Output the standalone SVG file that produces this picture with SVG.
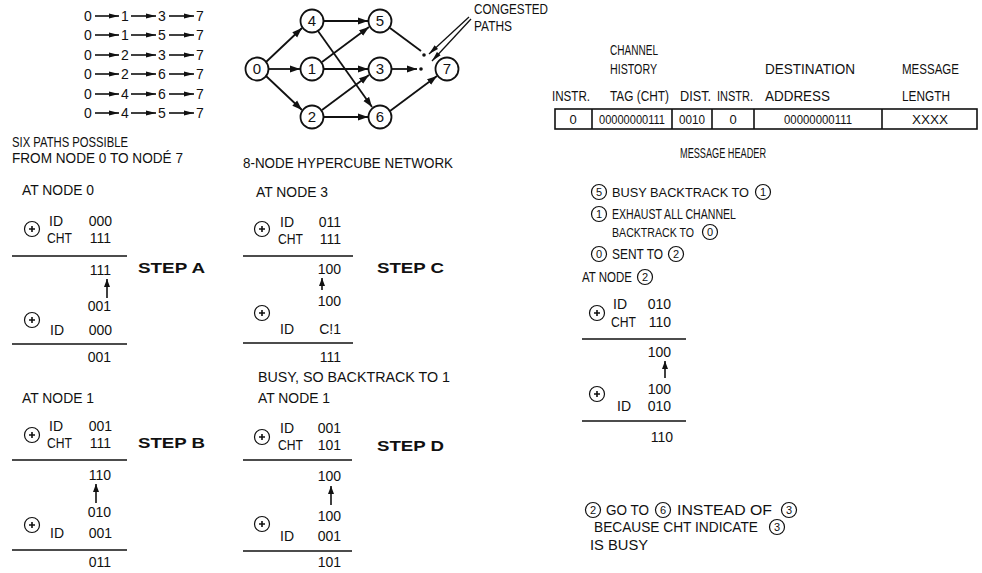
<svg xmlns="http://www.w3.org/2000/svg" width="982" height="573" viewBox="0 0 982 573">
<defs>
<style>
.t{font-family:"Liberation Sans",Arial,sans-serif;font-size:14px;fill:#111;}
.s{font-size:13px;}
.x{font-size:12px;}
.d{font-family:"Liberation Sans",Arial,sans-serif;font-size:14px;fill:#111;}
.b{font-family:"Liberation Sans",Arial,sans-serif;font-size:15px;font-weight:bold;fill:#111;}
.n{font-family:"Liberation Sans",Arial,sans-serif;font-size:15px;fill:#111;text-anchor:middle;}
.c{font-family:"Liberation Sans",Arial,sans-serif;font-size:11px;fill:#111;text-anchor:middle;}
.e{text-anchor:end;}
.m{text-anchor:middle;}
.ln{stroke:#111;stroke-width:1.6;fill:none;}
.nd{fill:#fff;stroke:#111;stroke-width:1.8;}
.cc{fill:#fff;stroke:#111;stroke-width:1.2;}
.ed{stroke:#111;stroke-width:1.8;fill:none;}
</style>
<marker id="ah" markerUnits="userSpaceOnUse" markerWidth="10" markerHeight="8" refX="10" refY="4" orient="auto"><path d="M0,0.5 L10,4 L0,7.5 z" fill="#111"/></marker>
<marker id="sa" markerUnits="userSpaceOnUse" markerWidth="10" markerHeight="6" refX="10" refY="3" orient="auto"><path d="M0,0.5 L10,3 L0,5.5 z" fill="#111"/></marker>
<marker id="va" markerUnits="userSpaceOnUse" markerWidth="8" markerHeight="6" refX="8" refY="3" orient="auto"><path d="M0,0 L8,3 L0,6 z" fill="#111"/></marker>
</defs>
<rect width="982" height="573" fill="#fff"/>

<!-- path list -->
<g id="path-list">
<g class="d m">
<text x="88" y="21">0</text><text x="125" y="21">1</text><text x="162" y="21">3</text><text x="200" y="21">7</text>
<text x="88" y="40">0</text><text x="125" y="40">1</text><text x="162" y="40">5</text><text x="200" y="40">7</text>
<text x="88" y="60">0</text><text x="125" y="60">2</text><text x="162" y="60">3</text><text x="200" y="60">7</text>
<text x="88" y="79">0</text><text x="125" y="79">2</text><text x="162" y="79">6</text><text x="200" y="79">7</text>
<text x="88" y="99">0</text><text x="125" y="99">4</text><text x="162" y="99">6</text><text x="200" y="99">7</text>
<text x="88" y="118">0</text><text x="125" y="118">4</text><text x="162" y="118">5</text><text x="200" y="118">7</text>
</g>
<g class="ln" marker-end="url(#sa)" stroke-width="1.4">
<line x1="95" y1="16" x2="119" y2="16"/><line x1="131" y1="16" x2="156" y2="16"/><line x1="169" y1="16" x2="194" y2="16"/>
<line x1="95" y1="35" x2="119" y2="35"/><line x1="131" y1="35" x2="156" y2="35"/><line x1="169" y1="35" x2="194" y2="35"/>
<line x1="95" y1="55" x2="119" y2="55"/><line x1="131" y1="55" x2="156" y2="55"/><line x1="169" y1="55" x2="194" y2="55"/>
<line x1="95" y1="74" x2="119" y2="74"/><line x1="131" y1="74" x2="156" y2="74"/><line x1="169" y1="74" x2="194" y2="74"/>
<line x1="95" y1="94" x2="119" y2="94"/><line x1="131" y1="94" x2="156" y2="94"/><line x1="169" y1="94" x2="194" y2="94"/>
<line x1="95" y1="113" x2="119" y2="113"/><line x1="131" y1="113" x2="156" y2="113"/><line x1="169" y1="113" x2="194" y2="113"/>
</g>
</g>

<!-- hypercube connectors -->
<g id="connectors" class="ed">
<line x1="266" y1="62" x2="302" y2="28" marker-end="url(#ah)"/>
<line x1="269" y1="69" x2="300" y2="69" marker-end="url(#ah)"/>
<line x1="266" y1="76" x2="302" y2="110" marker-end="url(#ah)"/>
<line x1="324" y1="21" x2="368" y2="21" marker-end="url(#ah)"/>
<line x1="318" y1="31" x2="372" y2="107" marker-end="url(#ah)"/>
<line x1="322" y1="62" x2="369" y2="27" marker-end="url(#ah)"/>
<line x1="324" y1="69" x2="368" y2="69" marker-end="url(#ah)"/>
<line x1="322" y1="110" x2="369" y2="75" marker-end="url(#ah)"/>
<line x1="324" y1="117" x2="368" y2="117" marker-end="url(#ah)"/>
<line x1="390" y1="28" x2="421" y2="51"/>
<line x1="391" y1="69" x2="417" y2="69" marker-end="url(#ah)"/>
<line x1="390" y1="111" x2="437" y2="76" marker-end="url(#ah)"/>
<line x1="469" y1="17" x2="429" y2="54" stroke-width="1.3" marker-end="url(#sa)"/>
<line x1="471" y1="19" x2="432" y2="61" stroke-width="1.3" marker-end="url(#sa)"/>
<circle cx="424" cy="55" r="1.8" fill="#111" stroke="none"/>
<circle cx="421" cy="69" r="1.8" fill="#111" stroke="none"/>
</g>

<g id="node-0"><circle class="nd" cx="257" cy="69" r="11.5"/><text class="n" x="257" y="74">0</text></g>
<g id="node-4"><circle class="nd" cx="312" cy="21" r="11.5"/><text class="n" x="312" y="26">4</text></g>
<g id="node-1"><circle class="nd" cx="312" cy="69" r="11.5"/><text class="n" x="312" y="74">1</text></g>
<g id="node-2"><circle class="nd" cx="312" cy="117" r="11.5"/><text class="n" x="312" y="122">2</text></g>
<g id="node-5"><circle class="nd" cx="380" cy="21" r="11.5"/><text class="n" x="380" y="26">5</text></g>
<g id="node-3"><circle class="nd" cx="380" cy="69" r="11.5"/><text class="n" x="380" y="74">3</text></g>
<g id="node-6"><circle class="nd" cx="380" cy="117" r="11.5"/><text class="n" x="380" y="122">6</text></g>
<g id="node-7"><circle class="nd" cx="447" cy="69" r="11.5"/><text class="n" x="447" y="74">7</text></g>

<g id="congested-label">
<text class="t" x="474" y="14" textLength="74" lengthAdjust="spacingAndGlyphs">CONGESTED</text>
<text class="t" x="474" y="31" textLength="38" lengthAdjust="spacingAndGlyphs">PATHS</text>
</g>

<!-- captions -->
<g id="captions">
<text class="t" x="12" y="147" textLength="116" lengthAdjust="spacingAndGlyphs">SIX PATHS POSSIBLE</text>
<text class="t" x="12" y="163" textLength="171" lengthAdjust="spacingAndGlyphs">FROM NODE 0 TO NODÉ 7</text>
<text class="t" x="243" y="168" textLength="210" lengthAdjust="spacingAndGlyphs">8-NODE HYPERCUBE NETWORK</text>
</g>

<!-- message header -->
<g id="message-header">
<g class="t">
<text x="610" y="55" textLength="48" lengthAdjust="spacingAndGlyphs">CHANNEL</text>
<text x="610" y="74" textLength="47" lengthAdjust="spacingAndGlyphs">HISTORY</text>
<text x="552" y="101" textLength="38" lengthAdjust="spacingAndGlyphs">INSTR.</text>
<text x="610" y="101" textLength="59" lengthAdjust="spacingAndGlyphs">TAG (CHT)</text>
<text x="680" y="101" textLength="31" lengthAdjust="spacingAndGlyphs">DIST.</text>
<text x="717" y="101" textLength="36" lengthAdjust="spacingAndGlyphs">INSTR.</text>
<text x="765" y="74" textLength="90" lengthAdjust="spacingAndGlyphs">DESTINATION</text>
<text x="765" y="101" textLength="65" lengthAdjust="spacingAndGlyphs">ADDRESS</text>
<text x="902" y="74" textLength="57" lengthAdjust="spacingAndGlyphs">MESSAGE</text>
<text x="902" y="101" textLength="48" lengthAdjust="spacingAndGlyphs">LENGTH</text>
</g>
<rect x="555" y="109" width="422" height="20" class="ln"/>
<path class="ln" d="M592,109V129M672,109V129M712,109V129M754,109V129M882,109V129"/>
<g class="t s m">
<text x="573" y="124">0</text>
<text x="632" y="124" textLength="66" lengthAdjust="spacingAndGlyphs">00000000111</text>
<text x="692" y="124" textLength="26" lengthAdjust="spacingAndGlyphs">0010</text>
<text x="733" y="124">0</text>
<text x="818" y="124" textLength="68" lengthAdjust="spacingAndGlyphs">00000000111</text>
<text x="930" y="124" textLength="36" lengthAdjust="spacingAndGlyphs">XXXX</text>
</g>
<text class="t" x="680" y="158" textLength="86" lengthAdjust="spacingAndGlyphs">MESSAGE HEADER</text>
</g>

<!-- STEP A -->
<g id="step-a">
<text class="t" x="22" y="195" textLength="72" lengthAdjust="spacingAndGlyphs">AT NODE 0</text>
<circle class="cc" cx="32" cy="229" r="7.5"/><path class="ln" stroke-width="1.1" d="M29,229H35M32,226V232"/>
<text class="d" x="49" y="226">ID</text><text class="d e" x="112" y="226">000</text>
<text class="d" x="47" y="243" textLength="25" lengthAdjust="spacingAndGlyphs">CHT</text><text class="d e" x="111" y="243">111</text>
<line class="ln" x1="12" y1="256" x2="127" y2="256"/>
<text class="d e" x="111" y="275">111</text>
<line class="ln" stroke-width="1.2" x1="107" y1="298" x2="107" y2="279" marker-end="url(#va)"/>
<text class="d e" x="111" y="311">001</text>
<circle class="cc" cx="32" cy="320" r="7.5"/><path class="ln" stroke-width="1.1" d="M29,320H35M32,317V323"/>
<text class="d" x="50" y="335">ID</text><text class="d e" x="112" y="335">000</text>
<line class="ln" x1="12" y1="344" x2="127" y2="344"/>
<text class="d e" x="111" y="362">001</text>
<text class="b" x="138" y="273" textLength="67" lengthAdjust="spacingAndGlyphs">STEP A</text>
</g>

<!-- STEP B -->
<g id="step-b">
<text class="t" x="22" y="403" textLength="72" lengthAdjust="spacingAndGlyphs">AT NODE 1</text>
<circle class="cc" cx="32" cy="435" r="7.5"/><path class="ln" stroke-width="1.1" d="M29,435H35M32,432V438"/>
<text class="d" x="49" y="431">ID</text><text class="d e" x="112" y="431">001</text>
<text class="d" x="47" y="448" textLength="25" lengthAdjust="spacingAndGlyphs">CHT</text><text class="d e" x="111" y="448">111</text>
<line class="ln" x1="12" y1="460" x2="127" y2="460"/>
<text class="d e" x="111" y="480">110</text>
<line class="ln" stroke-width="1.2" x1="96" y1="503" x2="96" y2="484" marker-end="url(#va)"/>
<text class="d e" x="111" y="517">010</text>
<circle class="cc" cx="32" cy="525" r="7.5"/><path class="ln" stroke-width="1.1" d="M29,525H35M32,522V528"/>
<text class="d" x="50" y="538">ID</text><text class="d e" x="112" y="538">001</text>
<line class="ln" x1="12" y1="550" x2="127" y2="550"/>
<text class="d e" x="111" y="567">011</text>
<text class="b" x="138" y="448" textLength="67" lengthAdjust="spacingAndGlyphs">STEP B</text>
</g>

<!-- STEP C -->
<g id="step-c">
<text class="t" x="256" y="197" textLength="72" lengthAdjust="spacingAndGlyphs">AT NODE 3</text>
<circle class="cc" cx="262" cy="229" r="7.5"/><path class="ln" stroke-width="1.1" d="M259,229H265M262,226V232"/>
<text class="d" x="280" y="227">ID</text><text class="d e" x="341" y="227">011</text>
<text class="d" x="278" y="244" textLength="25" lengthAdjust="spacingAndGlyphs">CHT</text><text class="d e" x="341" y="244">111</text>
<line class="ln" x1="243" y1="256" x2="353" y2="256"/>
<text class="d e" x="341" y="274">100</text>
<line class="ln" stroke-width="1.2" x1="322" y1="290" x2="322" y2="278" marker-end="url(#va)"/>
<text class="d e" x="341" y="306">100</text>
<circle class="cc" cx="262" cy="313" r="7.5"/><path class="ln" stroke-width="1.1" d="M259,313H265M262,310V316"/>
<text class="d" x="280" y="334">ID</text><text class="d e" x="341" y="334">C!1</text>
<line class="ln" x1="243" y1="343" x2="353" y2="343"/>
<text class="d e" x="341" y="362">111</text>
<text class="b" x="377" y="273" textLength="67" lengthAdjust="spacingAndGlyphs">STEP C</text>
</g>

<!-- STEP D -->
<g id="step-d">
<text class="t" x="258" y="382" textLength="192" lengthAdjust="spacingAndGlyphs">BUSY, SO BACKTRACK TO 1</text>
<text class="t" x="258" y="403" textLength="72" lengthAdjust="spacingAndGlyphs">AT NODE 1</text>
<circle class="cc" cx="262" cy="437" r="7.5"/><path class="ln" stroke-width="1.1" d="M259,437H265M262,434V440"/>
<text class="d" x="280" y="433">ID</text><text class="d e" x="341" y="433">001</text>
<text class="d" x="278" y="450" textLength="25" lengthAdjust="spacingAndGlyphs">CHT</text><text class="d e" x="341" y="450">101</text>
<line class="ln" x1="243" y1="460" x2="352" y2="460"/>
<text class="d e" x="341" y="481">100</text>
<line class="ln" stroke-width="1.2" x1="331" y1="505" x2="331" y2="486" marker-end="url(#va)"/>
<text class="d e" x="341" y="521">100</text>
<circle class="cc" cx="262" cy="524" r="7.5"/><path class="ln" stroke-width="1.1" d="M259,524H265M262,521V527"/>
<text class="d" x="280" y="541">ID</text><text class="d e" x="341" y="541">001</text>
<line class="ln" x1="243" y1="551" x2="352" y2="551"/>
<text class="d e" x="341" y="567">101</text>
<text class="b" x="377" y="451" textLength="67" lengthAdjust="spacingAndGlyphs">STEP D</text>
</g>

<!-- right column notes -->
<g id="notes">
<circle class="cc" cx="599" cy="192" r="7.5"/><text class="c" x="599" y="196">5</text>
<text class="t s" x="612" y="197" textLength="137" lengthAdjust="spacingAndGlyphs">BUSY BACKTRACK TO</text>
<circle class="cc" cx="763" cy="192" r="7.5"/><text class="c" x="763" y="196">1</text>
<circle class="cc" cx="599" cy="214" r="7.5"/><text class="c" x="599" y="218">1</text>
<text class="t" x="612" y="219" textLength="124" lengthAdjust="spacingAndGlyphs">EXHAUST ALL CHANNEL</text>
<text class="t x" x="612" y="237" textLength="82" lengthAdjust="spacingAndGlyphs">BACKTRACK TO</text>
<circle class="cc" cx="710" cy="232" r="7.5"/><text class="c" x="710" y="236">0</text>
<circle class="cc" cx="599" cy="254" r="7.5"/><text class="c" x="599" y="258">0</text>
<text class="t" x="612" y="259" textLength="51" lengthAdjust="spacingAndGlyphs">SENT TO</text>
<circle class="cc" cx="676" cy="254" r="7.5"/><text class="c" x="676" y="258">2</text>
</g>

<g id="step-node2">
<text class="t" x="582" y="282" textLength="50" lengthAdjust="spacingAndGlyphs">AT NODE</text>
<circle class="cc" cx="645" cy="277" r="7.5"/><text class="c" x="645" y="281">2</text>
<circle class="cc" cx="597" cy="313" r="7.5"/><path class="ln" stroke-width="1.1" d="M594,313H600M597,310V316"/>
<text class="d" x="613" y="309">ID</text><text class="d e" x="671" y="309">010</text>
<text class="d" x="611" y="327" textLength="25" lengthAdjust="spacingAndGlyphs">CHT</text><text class="d e" x="671" y="327">110</text>
<line class="ln" x1="582" y1="339" x2="686" y2="339"/>
<text class="d e" x="671" y="357">100</text>
<line class="ln" stroke-width="1.2" x1="665" y1="378" x2="665" y2="361" marker-end="url(#va)"/>
<text class="d e" x="671" y="394">100</text>
<circle class="cc" cx="597" cy="394" r="7.5"/><path class="ln" stroke-width="1.1" d="M594,394H600M597,391V397"/>
<text class="d" x="617" y="411">ID</text><text class="d e" x="671" y="411">010</text>
<line class="ln" x1="582" y1="421" x2="686" y2="421"/>
<text class="d e" x="673" y="442">110</text>
</g>

<g id="conclusion">
<circle class="cc" cx="593" cy="510" r="7.5"/><text class="c" x="593" y="514">2</text>
<text class="t" x="606" y="515" textLength="43" lengthAdjust="spacingAndGlyphs">GO TO</text>
<circle class="cc" cx="663" cy="510" r="7.5"/><text class="c" x="663" y="514">6</text>
<text class="t" x="677" y="515" textLength="95" lengthAdjust="spacingAndGlyphs">INSTEAD OF</text>
<circle class="cc" cx="789" cy="510" r="7.5"/><text class="c" x="789" y="514">3</text>
<text class="t" x="594" y="532" textLength="164" lengthAdjust="spacingAndGlyphs">BECAUSE CHT INDICATE</text>
<circle class="cc" cx="777" cy="527" r="7.5"/><text class="c" x="777" y="531">3</text>
<text class="t" x="590" y="550" textLength="58" lengthAdjust="spacingAndGlyphs">IS BUSY</text>
</g>
</svg>
